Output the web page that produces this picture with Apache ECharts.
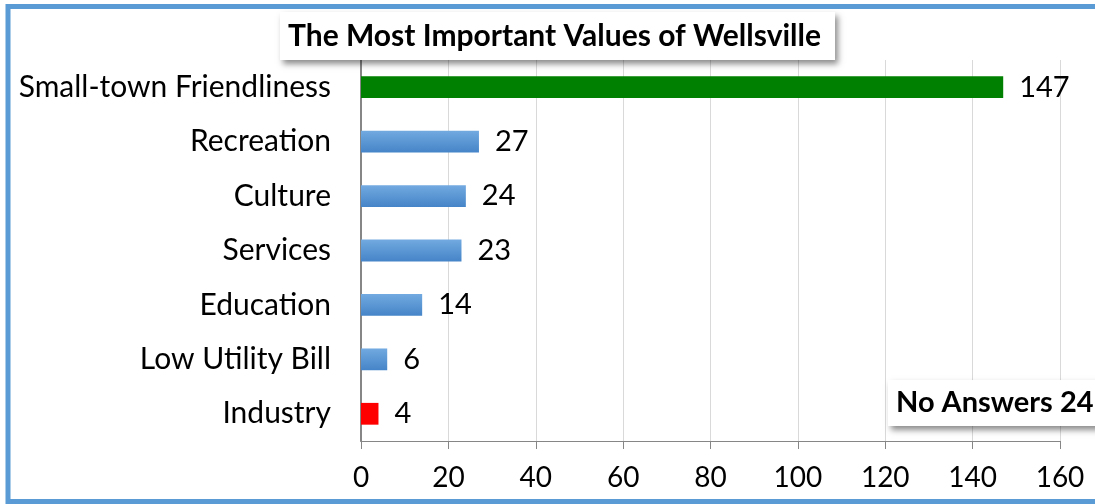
<!DOCTYPE html>
<html>
<head>
<meta charset="utf-8">
<script src="https://cdn.jsdelivr.net/npm/echarts@6/dist/echarts.min.js"></script>
<style>
  html, body { margin: 0; padding: 0; background: #fff; }
  #chart { width: 1095px; height: 504px; }
</style>
</head>
<body>
<div id="chart"></div>
<script>
// data, top to bottom
var categories = ["Small-town Friendliness", "Recreation", "Culture", "Services", "Education", "Low Utility Bill", "Industry"];
var counts = [147, 27, 24, 23, 14, 6, 4];
var noAnswers = 24;
var xTicks = [0, 20, 40, 60, 80, 100, 120, 140, 160];

var fontName = "Lato, 'Open Sans', sans-serif";

var chart = echarts.init(document.getElementById("chart"));

// blue gradient bars, first one green, last one red
var blueFill = new echarts.graphic.LinearGradient(0, 0, 0, 1, [
    { offset: 0, color: "#72aae0" },
    { offset: 1, color: "#4584c8" }
]);
var barData = counts.map(function (v, i) {
    var color = blueFill;
    if (i === 0) color = "#008000";
    if (i === counts.length - 1) color = "#ff0000";
    return { value: v, itemStyle: { color: color } };
});

var option = {
    animation: false,
    title: [{
        text: "The Most Important Values of Wellsville",
        left: 280,
        top: 12,
        padding: [8, 14, 8, 8],
        backgroundColor: "#fff",
        shadowColor: "rgba(0,0,0,0.45)",
        shadowBlur: 6,
        shadowOffsetX: 3,
        shadowOffsetY: 4,
        textStyle: { fontFamily: fontName, fontSize: 30, fontWeight: "bold", color: "#000", lineHeight: 32 }
    }, {
        text: "No Answers " + noAnswers,
        left: 888,
        top: 380,
        padding: [7, 10, 7, 8],
        backgroundColor: "#fff",
        shadowColor: "rgba(0,0,0,0.45)",
        shadowBlur: 6,
        shadowOffsetX: 3,
        shadowOffsetY: 4,
        textStyle: { fontFamily: fontName, fontSize: 29, fontWeight: "bold", color: "#000", lineHeight: 32 }
    }],
    graphic: [{
        type: "rect",
        z: 100,
        shape: { x: 8, y: 6.5, width: 1110, height: 495 },
        style: { fill: "none", stroke: "#5b9bd5", lineWidth: 5 }
    }],
    grid: { left: 361, right: 35, top: 60, bottom: 63 },
    xAxis: {
        type: "value",
        min: xTicks[0],
        max: xTicks[xTicks.length - 1],
        interval: 20,
        axisLine: { show: true, lineStyle: { color: "#868686", width: 1 } },
        axisTick: { show: true, length: 8, lineStyle: { color: "#868686" } },
        axisLabel: { margin: 23, fontFamily: fontName, fontSize: 28, color: "#000" },
        splitLine: { show: true, lineStyle: { color: "#d9d9d9", width: 1 } }
    },
    yAxis: {
        type: "category",
        inverse: true,
        data: categories,
        axisLine: { show: true, lineStyle: { color: "#868686", width: 2 } },
        axisTick: { show: false },
        axisLabel: { margin: 30, fontFamily: fontName, fontSize: 30, color: "#000" }
    },
    series: [{
        type: "bar",
        barWidth: "40%",
        data: barData,
        label: {
            show: true,
            position: "right",
            distance: 16,
            fontFamily: fontName,
            fontSize: 29,
            color: "#000"
        }
    }]
};
chart.setOption(option);
</script>
</body>
</html>
